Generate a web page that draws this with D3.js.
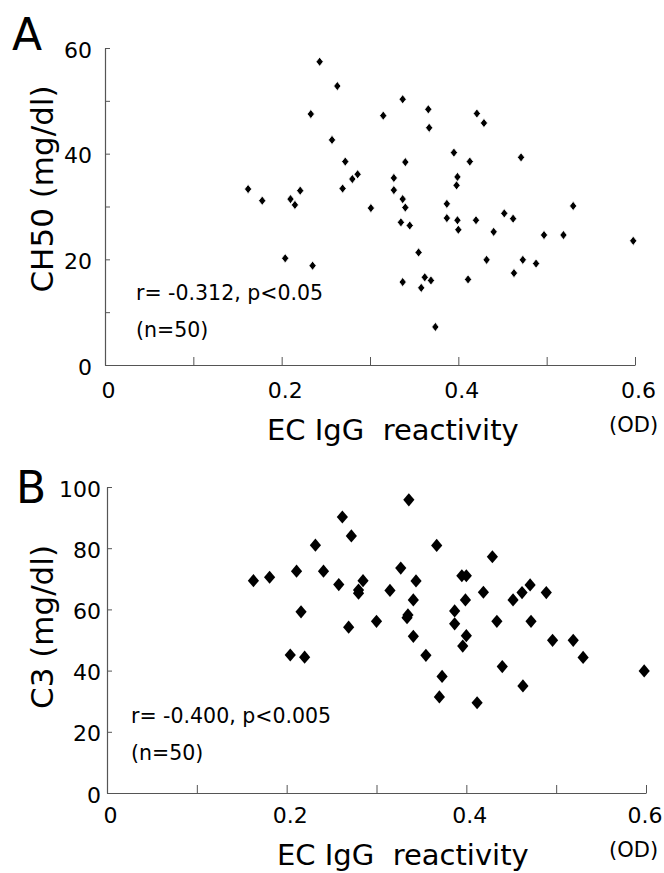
<!DOCTYPE html>
<html>
<head>
<meta charset="utf-8">
<script src="https://cdn.jsdelivr.net/npm/d3@7"></script>
<style>
  body { margin: 0; background: #fff; }
  svg { display: block; }
  text { font-family: "DejaVu Sans", sans-serif; fill: #000; }
</style>
</head>
<body>
<svg width="664" height="873"></svg>
<script>
// Panel A: EC IgG reactivity (OD) against CH50 (mg/dl)
var ecA = [0.162, 0.178, 0.210, 0.215, 0.221, 0.204, 0.235, 0.243, 0.263, 0.233,
           0.257, 0.272, 0.280, 0.286, 0.269, 0.301, 0.337, 0.315, 0.366, 0.367,
           0.421, 0.429, 0.395, 0.340, 0.413, 0.471, 0.327, 0.327, 0.337, 0.340,
           0.335, 0.345, 0.399, 0.398, 0.387, 0.387, 0.399, 0.400, 0.420, 0.452,
           0.462, 0.440, 0.497, 0.519, 0.530, 0.355, 0.432, 0.473, 0.488, 0.463,
           0.337, 0.362, 0.369, 0.358, 0.411, 0.374, 0.598];
var ch50 = [33.3, 31.1, 31.4, 30.3, 33.0, 20.2, 18.8, 57.4, 52.8, 47.5,
            42.6, 38.5, 35.2, 36.1, 33.4, 29.7, 50.3, 47.2, 48.4, 44.9,
            47.6, 45.8, 40.2, 38.4, 38.5, 39.3, 35.4, 33.1, 31.4, 29.8,
            27.0, 26.4, 35.6, 34.0, 30.5, 27.8, 27.4, 25.6, 27.4, 28.7,
            27.7, 25.2, 24.6, 24.6, 30.1, 21.3, 19.9, 19.9, 19.2, 17.4,
            15.7, 16.6, 16.0, 14.6, 16.2, 7.2, 23.5];

// Panel B: EC IgG reactivity (OD) against C3 (mg/dl)
var ecB = [0.163, 0.181, 0.211, 0.216, 0.204, 0.220, 0.232, 0.262, 0.272, 0.241,
           0.258, 0.285, 0.280, 0.280, 0.269, 0.300, 0.336, 0.367, 0.327, 0.344,
           0.315, 0.341, 0.335, 0.334, 0.341, 0.355, 0.373, 0.370, 0.429, 0.395,
           0.400, 0.399, 0.387, 0.387, 0.400, 0.396, 0.419, 0.434, 0.412, 0.440,
           0.452, 0.462, 0.471, 0.489, 0.472, 0.463, 0.496, 0.519, 0.530, 0.598];
var c3 = [69.4, 70.5, 72.5, 59.2, 45.1, 44.4, 81.0, 90.2, 84.0, 72.5,
          68.1, 69.4, 66.3, 65.3, 54.2, 56.1, 95.8, 80.9, 73.5, 69.3,
          66.2, 63.1, 58.2, 57.3, 51.2, 45.0, 38.1, 31.4, 77.2, 71.0,
          71.0, 63.1, 59.5, 55.3, 51.4, 48.0, 65.6, 56.1, 29.5, 41.3,
          63.1, 65.5, 68.0, 65.5, 56.1, 35.0, 49.9, 49.9, 44.3, 39.9];

var xTickVals = [0, 0.1, 0.2, 0.3, 0.4, 0.5, 0.6];
var xLabels = [0, 0.2, 0.4, 0.6];
var ch50TickVals = [0, 10, 20, 30, 40, 50, 60];
var ch50Labels = [0, 20, 40, 60];
var c3TickVals = [0, 20, 40, 60, 80, 100];
var c3Labels = [0, 20, 40, 60, 80, 100];

var width = 664;
var svg = d3.select("svg");

function diamond(w, h) {
    return "M0," + (-h) + "L" + w + ",0L0," + h + "L" + (-w) + ",0Z";
}

function panel(p) {
    var x = d3.scaleLinear().domain([0, 0.6]).range([p.left, p.right]);
    var y = d3.scaleLinear().domain([0, p.ymax]).range([p.bottom, p.top]);
    var g = svg.append("g");

    var xAxis = g.append("g")
        .attr("transform", "translate(0," + p.bottom + ")")
        .call(d3.axisBottom(x)
            .tickValues(xTickVals)
            .tickSizeInner(-8)
            .tickSizeOuter(0)
            .tickFormat(function(d) { return xLabels.indexOf(d) >= 0 ? String(d) : ""; }));
    xAxis.selectAll("text")
        .attr("y", p.xLabelY).attr("dy", null).attr("x", 3)
        .style("font-size", p.tickFont + "px")
        .each(function(d) {
            // keep the last label inside the page
            var w = this.getComputedTextLength();
            if (x(d) + 3 + w / 2 > width - 2) d3.select(this).attr("x", width - 2 - w / 2 - x(d));
        });

    var yAxis = g.append("g")
        .attr("transform", "translate(" + p.left + ",0)")
        .call(d3.axisLeft(y)
            .tickValues(p.yTickVals)
            .tickSizeInner(-5)
            .tickSizeOuter(0)
            .tickFormat(function(d) { return p.yLabels.indexOf(d) >= 0 ? String(d) : ""; }));
    yAxis.selectAll("text")
        .attr("x", p.yLabelX).attr("dy", null).attr("y", 9)
        .style("font-size", p.tickFont + "px");

    g.selectAll(".domain").attr("stroke", "#555").attr("stroke-width", 1.2);
    g.selectAll(".tick line").attr("stroke", "#555");
    g.selectAll(".tick text").attr("fill", "#000").attr("font-family", null);

    g.selectAll("path.pt")
        .data(p.xs)
        .enter().append("path")
        .attr("class", "pt")
        .attr("transform", function(d, i) { return "translate(" + x(d) + "," + y(p.ys[i]) + ")"; })
        .attr("d", diamond(p.mw, p.mh))
        .attr("fill", "#000")
        .attr("stroke", p.outline ? "#fff" : "none")
        .attr("stroke-width", 0.8);

    g.append("text")
        .attr("x", p.letterX).attr("y", p.letterY)
        .style("font-size", "44px")
        .text(p.letter);

    g.append("text")
        .attr("transform", "translate(53," + p.yTitleY + ") rotate(-90)")
        .attr("text-anchor", "middle")
        .style("font-size", "31px")
        .text(p.yTitle);

    g.append("text")
        .attr("x", p.xTitleX).attr("y", p.xTitleY)
        .style("font-size", "29px")
        .style("white-space", "pre")
        .text("EC IgG  reactivity");

    g.append("text")
        .attr("x", 609).attr("y", p.odY)
        .style("font-size", "21px")
        .text("(OD)");

    g.append("text")
        .attr("x", p.noteX).attr("y", p.noteY)
        .style("font-size", "20.5px")
        .text(p.note);
    g.append("text")
        .attr("x", p.noteX).attr("y", p.noteY + 37)
        .style("font-size", "20.5px")
        .text("(n=50)");
}

panel({
    xs: ecA, ys: ch50, ymax: 60,
    left: 105, right: 635, top: 48, bottom: 365,
    yTickVals: ch50TickVals, yLabels: ch50Labels,
    xLabelY: 33, yLabelX: -13, tickFont: 22,
    mw: 3.6, mh: 4.6, outline: true,
    letter: "A", letterX: 12, letterY: 50,
    yTitle: "CH50 (mg/dl)", yTitleY: 189,
    xTitleX: 267, xTitleY: 440, odY: 432,
    note: "r= -0.312, p<0.05", noteX: 136, noteY: 300
});

panel({
    xs: ecB, ys: c3, ymax: 100,
    left: 107, right: 646, top: 487, bottom: 793,
    yTickVals: c3TickVals, yLabels: c3Labels,
    xLabelY: 30, yLabelX: -6, tickFont: 22,
    mw: 5.6, mh: 6.6, outline: false,
    letter: "B", letterX: 16, letterY: 503,
    yTitle: "C3 (mg/dl)", yTitleY: 627,
    xTitleX: 277, xTitleY: 865, odY: 857,
    note: "r= -0.400, p<0.005", noteX: 131, noteY: 723
});
</script>
</body>
</html>
